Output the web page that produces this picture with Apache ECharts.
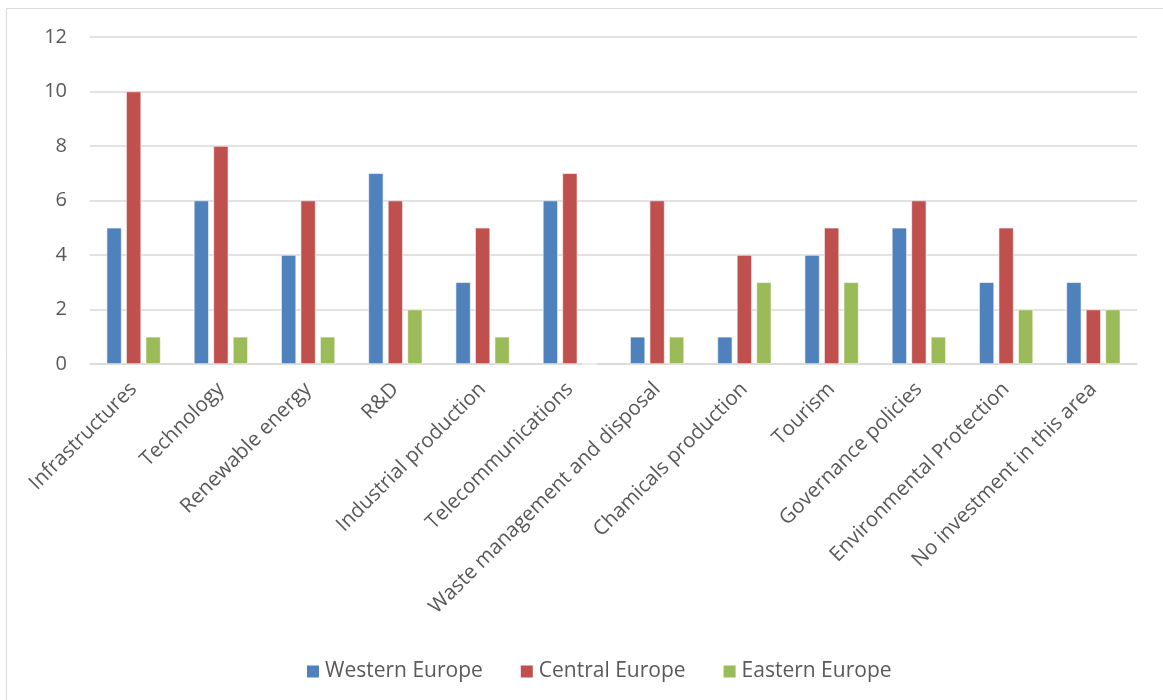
<!DOCTYPE html>
<html><head><meta charset="utf-8">
<script src="https://cdn.jsdelivr.net/npm/echarts@6/dist/echarts.min.js"></script>
<style>html,body{margin:0;padding:0;background:#fff}#c{width:1163px;height:700px}</style>
</head><body><div id="c"></div>
<script>
const categories = ["Infrastructures","Technology","Renewable energy","R&D","Industrial production","Telecommunications","Waste management and disposal","Chamicals production","Tourism","Governance policies","Environmental Protection","No investment in this area"];
const western = [5,6,4,7,3,6,1,1,4,5,3,3];
const central = [10,8,6,6,5,7,6,4,5,6,5,2];
const eastern = [1,1,1,2,1,0,1,3,3,1,2,2];
const seriesNames = ["Western Europe","Central Europe","Eastern Europe"];
const yTicks = {min:0, max:12, interval:2};

const chart = echarts.init(document.getElementById('c'));
const font = "'Open Sans', 'Liberation Sans', sans-serif";
const colors = ['#4F81BD','#C0504D','#9BBB59'];
function s(name, data, color){
  return {name, type:'bar', data, barWidth:15, barGap:'30%',
    itemStyle:{color, borderColor:'#ffffff', borderWidth:0.6}};
}
chart.setOption({
  animation:false,
  textStyle:{fontFamily:font},
  graphic:[{type:'rect', shape:{x:6.5,y:8.5,width:1200,height:800}, style:{fill:'none',stroke:'#D9D9D9',lineWidth:1}}],
  grid:{left:90,right:26,top:37,bottom:336},
  legend:{top:656,left:300,itemWidth:14,itemHeight:14,itemGap:36,icon:'rect',
    textStyle:{fontFamily:font,fontSize:21,color:'#595959',padding:[0,0,0,0]}, data:seriesNames},
  xAxis:{type:'category',data:categories,
    axisLine:{lineStyle:{color:'#D9D9D9',width:1.5}},axisTick:{show:false},
    axisLabel:{rotate:45,interval:0,fontSize:20.5,color:'#595959',fontFamily:font,margin:22}},
  yAxis:{type:'value',min:yTicks.min,max:yTicks.max,interval:yTicks.interval,
    axisLine:{show:false},axisTick:{show:false},
    splitLine:{lineStyle:{color:'#D9D9D9',width:1.5}},
    axisLabel:{fontSize:20,color:'#595959',fontFamily:font,margin:23}},
  series:[s(seriesNames[0],western,colors[0]),s(seriesNames[1],central,colors[1]),s(seriesNames[2],eastern,colors[2])]
});
</script></body></html>
